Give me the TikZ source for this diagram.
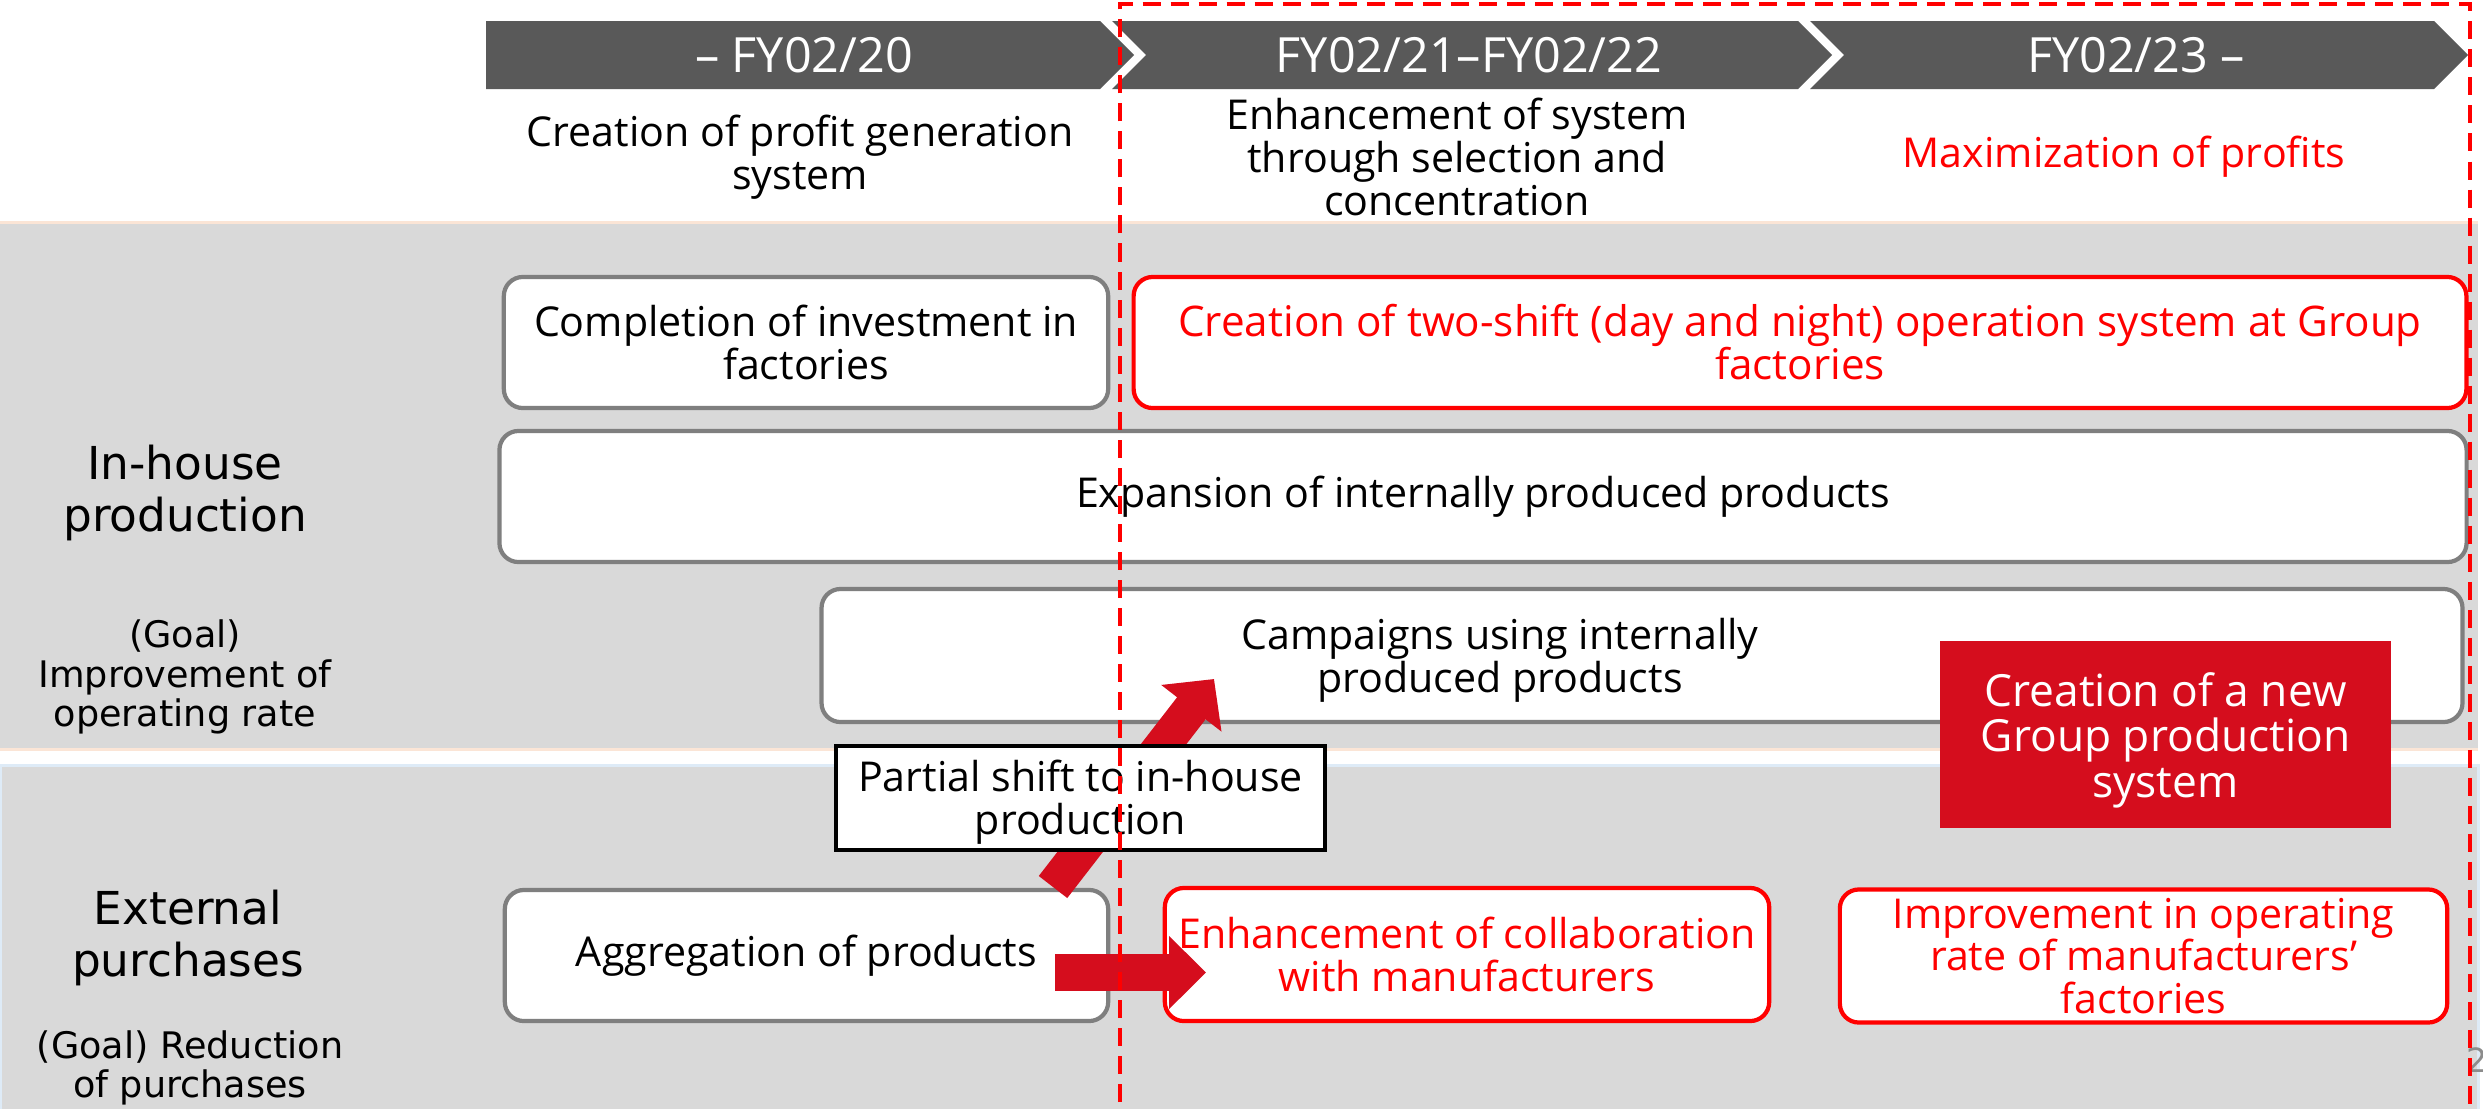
\documentclass[tikz,border=0pt]{standalone}
\usepackage{fontspec}
\setmainfont{Open Sans}
\newfontfamily\verdfont{DejaVu Sans}
\usetikzlibrary{arrows.meta}
\definecolor{bandgray}{HTML}{D9D9D9}
\definecolor{chevgray}{HTML}{595959}
\definecolor{boxborder}{HTML}{7F7F7F}
\definecolor{pptred}{HTML}{FF0000}
\definecolor{darkred}{HTML}{D50D1D}
\definecolor{peach}{HTML}{FBE5D6}
\definecolor{paleblue}{HTML}{DEEBF7}
\definecolor{pagegray}{HTML}{8C8C8C}
\newcommand\boxfont{\fontsize{11.7pt}{12.2pt}\selectfont}
\newcommand\headfont{\fontsize{13.8pt}{15pt}\selectfont}
\newcommand\labfont{\verdfont\fontsize{12.9pt}{14.8pt}\selectfont}
\newcommand\goalfont{\verdfont\fontsize{10.4pt}{11.3pt}\selectfont}
\begin{document}
\begin{tikzpicture}[x=0.01cm,y=-0.01cm,
  box/.style={draw=boxborder, line width=1.2pt, rounded corners=0.19cm, fill=white,
    align=center, inner sep=0pt, font=\boxfont},
  redbox/.style={box, draw=pptred, text=pptred},
  txt/.style={align=center, inner sep=0pt, font=\boxfont},
  headtxt/.style={text=white, inner sep=0pt, font=\headfont},
  chev/.style={fill=chevgray},
  blockarrow/.style={darkred, line width=#1},
]
\useasboundingbox (0,0) rectangle (2483,1109);
% bands
\fill[bandgray] (0,222) rectangle (2478,749);
\draw[peach, line width=0.03cm] (0,222) -- (2478,222) (0,749) -- (2478,749);
\fill[bandgray] (0,765) rectangle (2478,1109);
\draw[paleblue, line width=0.03cm] (0,1109) -- (0,765) -- (2478,765) -- (2478,1109);
% header chevrons
\fill[chev] (486,21) -- (1100,21) -- (1134,55) -- (1100,89) -- (486,89) -- cycle;
\fill[chev] (1112,21) -- (1798,21) -- (1832,55) -- (1798,89) -- (1112,89) -- (1146,55) -- cycle;
\fill[chev] (1810,21) -- (2434,21) -- (2468,55) -- (2434,89) -- (1810,89) -- (1844,55) -- cycle;
\node[headtxt] (h1) at (804,55) {– FY02/20};
\node[headtxt] (h2) at (1469,55) {FY02/21–FY02/22};
\node[headtxt] (h3) at (2136,55) {FY02/23 –};
% phase texts
\node[txt] (p1) at (800,157) {Creation of profit generation\\system};
\node[txt] (p2) at (1457,157) {Enhancement of system\\through selection and\\concentration};
\node[txt, text=pptred] (p3) at (2124,157) {Maximization of profits};
% boxes
\node[box, minimum width=6.04cm, minimum height=1.31cm] (inv) at (806,342.5) {Completion of investment in\\factories};
\node[redbox, minimum width=13.32cm, minimum height=1.31cm] (shift) at (1800,342.5) {\fontsize{12pt}{12.2pt}\selectfont Creation of two-shift (day and night) operation system at Group\\\fontsize{12pt}{12.2pt}\selectfont factories};
\node[box, minimum width=19.66cm, minimum height=1.31cm] (expand) at (1483,496.5) {\raisebox{-0.04cm}{Expansion of internally produced products}};
\node[box, minimum width=16.40cm, minimum height=1.33cm] (camp) at (1642,655.5) {};
\node[txt] (camptxt) at (1500,660) {Campaigns using internally\\produced products};
\node[box, minimum width=6.03cm, minimum height=1.31cm] (aggr) at (806.5,955.5) {\raisebox{-0.04cm}{Aggregation of products}};
\node[redbox, minimum width=6.04cm, minimum height=1.33cm] (collab) at (1467,954.5) {Enhancement of collaboration\\with manufacturers};
\node[redbox, minimum width=6.07cm, minimum height=1.33cm] (improve) at (2143.5,956) {Improvement in operating\\rate of manufacturers’\\factories};
% new system
\node[fill=darkred, text=white, inner sep=0pt, minimum width=4.51cm, minimum height=1.87cm] (newsys) at (2165.5,734.5) {};
\node[align=center, text=white, inner sep=0pt, font=\boxfont\fontsize{12.6pt}{12.9pt}\selectfont] (newsystxt) at (2165.5,740) {Creation of a new\\Group production\\system};
% left labels
\node[align=center, inner sep=0pt, font=\labfont] (inh) at (185,493) {In-house\\production};
\node[align=center, inner sep=0pt, font=\goalfont] (inhg) at (185,677) {(Goal)\\Improvement of\\operating rate};
\node[align=center, inner sep=0pt, font=\labfont] (ext) at (188,938) {External\\purchases};
\node[align=center, inner sep=0pt, font=\goalfont] (extg) at (190,1068) {(Goal) Reduction\\of purchases};
% arrows
\coordinate (dtail) at (1053,887);
\coordinate (dtip) at (1214,679);
\draw[blockarrow=0.36cm, -{Triangle[width=0.74cm,length=0.37cm]}] (dtail) -- (dtip);
\node[draw=black, line width=1.1pt, fill=white, minimum width=4.89cm, minimum height=1.04cm] (partial) at (1080.5,798) {};
\node[txt] (partialtxt) at (1080.5,802) {Partial shift to in-house\\production};
\coordinate (htail) at (1055,972.5);
\coordinate (htip) at (1206,972.5);
\draw[blockarrow=0.37cm, -{Triangle[width=0.71cm,length=0.37cm]}] (htail) -- (htip);
% page number
\node[anchor=west, text=pagegray, inner sep=0pt, font=\verdfont\fontsize{9.5pt}{10pt}\selectfont] (pg) at (2466,1060) {2};
% dashed frame
\draw[pptred, line width=0.04cm, dash pattern=on 0.18cm off 0.10cm] (1120,1130) -- (1120,4) -- (2470,4) -- (2470,1130);
\end{tikzpicture}
\end{document}
